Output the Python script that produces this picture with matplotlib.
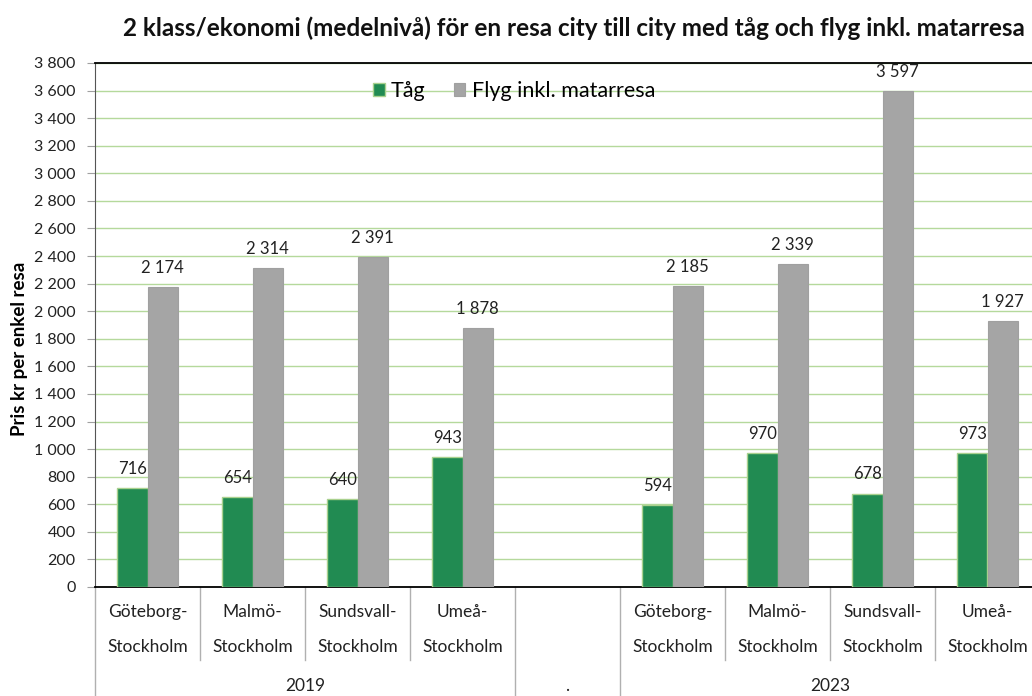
import numpy as np
import matplotlib.pyplot as plt
import matplotlib.transforms as mtransforms

# data
routes = ["Göteborg-\nStockholm", "Malmö-\nStockholm", "Sundsvall-\nStockholm", "Umeå-\nStockholm",
          "",
          "Göteborg-\nStockholm", "Malmö-\nStockholm", "Sundsvall-\nStockholm", "Umeå-\nStockholm"]
groups = ["2019", ".", "2023"]
group_spans = [(0, 4), (4, 5), (5, 9)]
tag = [716, 654, 640, 943, np.nan, 594, 970, 678, 973]
flyg = [2174, 2314, 2391, 1878, np.nan, 2185, 2339, 3597, 1927]

green = "#218b52"
grey = "#a5a5a5"
gridgreen = "#b5d99c"

plt.rcParams["font.family"] = ["Lato", "DejaVu Sans"]

fig = plt.figure(figsize=(10.32, 6.96), dpi=100)
W, H = 1032, 696
ax = fig.add_axes([95 / W, 1 - 587 / H, 945 / W, 524 / H])

x = np.arange(len(routes)) + 0.5
bw = 0.286
ax.bar(x - bw / 2, tag, bw, color=green, edgecolor="#a9d18e", linewidth=1, label="Tåg", zorder=3)
ax.bar(x + bw / 2, flyg, bw, color=grey, edgecolor="#a0a0a0", linewidth=0.8, label="Flyg inkl. matarresa", zorder=3)


def fmt(v):
    return f"{v:,.0f}".replace(",", " ")


for xi, t, f in zip(x, tag, flyg):
    if not np.isnan(t):
        ax.annotate(fmt(t), (xi - bw / 2, t), xytext=(0, 8), textcoords="offset points",
                    ha="center", va="bottom", fontsize=12, color="#222222")
        ax.annotate(fmt(f), (xi + bw / 2, f), xytext=(0, 8), textcoords="offset points",
                    ha="center", va="bottom", fontsize=12, color="#222222")

ax.set_xlim(0, 9)
ax.set_ylim(0, 3800)
ax.set_yticks(np.arange(0, 3801, 200))
ax.set_yticklabels([fmt(v) for v in np.arange(0, 3801, 200)], fontsize=11.5, color="#222222")
ax.tick_params(axis="y", length=6, color="#a0a0a0", pad=8)
ax.set_xticks([])
ax.yaxis.grid(True, color=gridgreen, linewidth=1, zorder=0)
ax.set_axisbelow(True)
for s in ["top", "bottom"]:
    ax.spines[s].set_color("black")
    ax.spines[s].set_linewidth(1.3)
ax.spines["left"].set_color("#555555")
ax.spines["right"].set_visible(False)

ax.set_ylabel("Pris kr per enkel resa", fontsize=13.5, fontweight="bold")
ax.yaxis.set_label_coords(-0.071, 0.455)

# multi level category axis
tr = mtransforms.blended_transform_factory(ax.transData, fig.transFigure)
for i, lab in enumerate(routes):
    if lab:
        top, bot = lab.split("\n")
        ax.text(i + 0.5, 1 - 612 / H, top, transform=tr, ha="center", va="center", fontsize=12.5, color="#222222")
        ax.text(i + 0.5, 1 - 647 / H, bot, transform=tr, ha="center", va="center", fontsize=12.5, color="#222222")
for b in [1, 2, 3, 6, 7, 8]:
    ax.plot([b, b], [1 - 587 / H, 1 - 660 / H], transform=tr, color="#b0b0b0", lw=1, clip_on=False)
for b in [0, 4, 5, 9]:
    ax.plot([b, b], [1 - 587 / H, 0], transform=tr, color="#b0b0b0", lw=1, clip_on=False)
for g, (a, b) in zip(groups, group_spans):
    ax.text((a + b) / 2, 1 - 686 / H, g, transform=tr, ha="center", va="center", fontsize=12.5, color="#222222")

ax.legend(loc="center", bbox_to_anchor=(514 / W, 1 - 91 / H), bbox_transform=fig.transFigure, ncol=2,
          frameon=False, fontsize=15.5, handlelength=0.55, handleheight=0.55, handletextpad=0.3,
          columnspacing=1.3)

fig.text(574 / W, 1 - 28 / H, "2 klass/ekonomi (medelnivå) för en resa city till city med tåg och flyg inkl. matarresa",
         ha="center", va="center", fontsize=17.5, fontweight="bold", color="#111111")

fig.savefig("out.png", dpi=100)
